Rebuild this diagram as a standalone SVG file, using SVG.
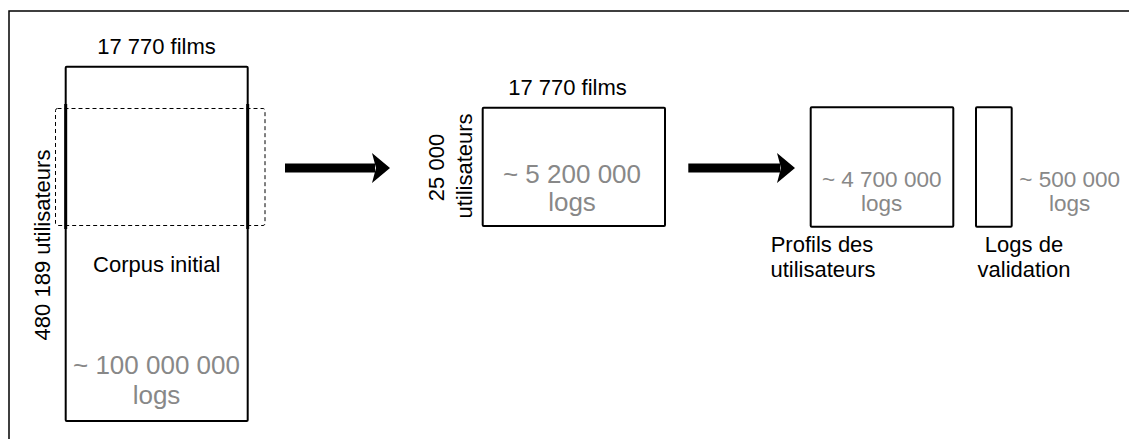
<svg xmlns="http://www.w3.org/2000/svg" width="1129" height="439" viewBox="0 0 1129 439">
<style>
.box{fill:none;stroke:#000;stroke-width:2}
.dash{fill:none;stroke:#000;stroke-width:1;stroke-dasharray:4 3}
.t{font-family:"Liberation Sans",Arial,sans-serif;font-size:22px;fill:#000;text-anchor:middle}
.g{font-family:"Liberation Sans",Arial,sans-serif;font-size:26px;fill:#888;text-anchor:middle}
.gs{font-family:"Liberation Sans",Arial,sans-serif;font-size:22.5px;fill:#888;text-anchor:middle}
.arr{fill:#000}
</style>
<rect width="1129" height="439" fill="#fff"/>
<path d="M9,439 V11 H1129" fill="none" stroke="#000" stroke-width="1.5"/>
<g id="corpus">
<rect class="box" x="65.7" y="66.7" width="182" height="354.3" rx="1"/>
<rect class="dash" x="55.5" y="108.5" width="209.5" height="117" rx="2"/>
<line x1="65.7" y1="104" x2="65.7" y2="229" stroke="#000" stroke-width="3"/>
<line x1="247.7" y1="104" x2="247.7" y2="229" stroke="#000" stroke-width="3"/>
<text class="t" x="156.5" y="53.5">17 770 films</text>
<text class="t" transform="translate(50,245) rotate(-90)">480 189 utilisateurs</text>
<text class="t" x="156.7" y="271.5">Corpus initial</text>
<text class="g" x="156.5" y="374">~ 100 000 000</text>
<text class="g" x="156.5" y="404">logs</text>
</g>
<g id="sample">
<rect class="box" x="482.7" y="107.7" width="182.3" height="118.3" rx="1"/>
<text class="t" x="567.5" y="95">17 770 films</text>
<text class="t" transform="translate(443.5,167.5) rotate(-90)">25 000</text>
<text class="t" transform="translate(471.5,166) rotate(-90)">utilisateurs</text>
<text class="g" x="572" y="182.5">~ 5 200 000</text>
<text class="g" x="572" y="211">logs</text>
</g>
<g id="profils">
<rect class="box" x="810.7" y="107.3" width="142.6" height="119.4" rx="1"/>
<text class="gs" x="881.7" y="186.7">~ 4 700 000</text>
<text class="gs" x="881.7" y="210.7">logs</text>
<text class="t" x="822" y="251.7">Profils des</text>
<text class="t" x="823" y="276.7">utilisateurs</text>
</g>
<g id="validation">
<rect class="box" x="976" y="107.3" width="35.7" height="119.4" rx="1"/>
<text class="gs" x="1069.7" y="186.7">~ 500 000</text>
<text class="gs" x="1069.7" y="210.7">logs</text>
<text class="t" x="1024" y="251.7">Logs de</text>
<text class="t" x="1024" y="276.7">validation</text>
</g>
<g id="connectors">
<rect class="arr" x="285" y="163.5" width="90" height="9"/>
<path class="arr" d="M372,153 L390,168 L372,183 L376,168 Z"/>
<rect class="arr" x="688.3" y="163.5" width="92" height="9"/>
<path class="arr" d="M777,153 L795,168 L777,183 L781,168 Z"/>
</g>
</svg>
